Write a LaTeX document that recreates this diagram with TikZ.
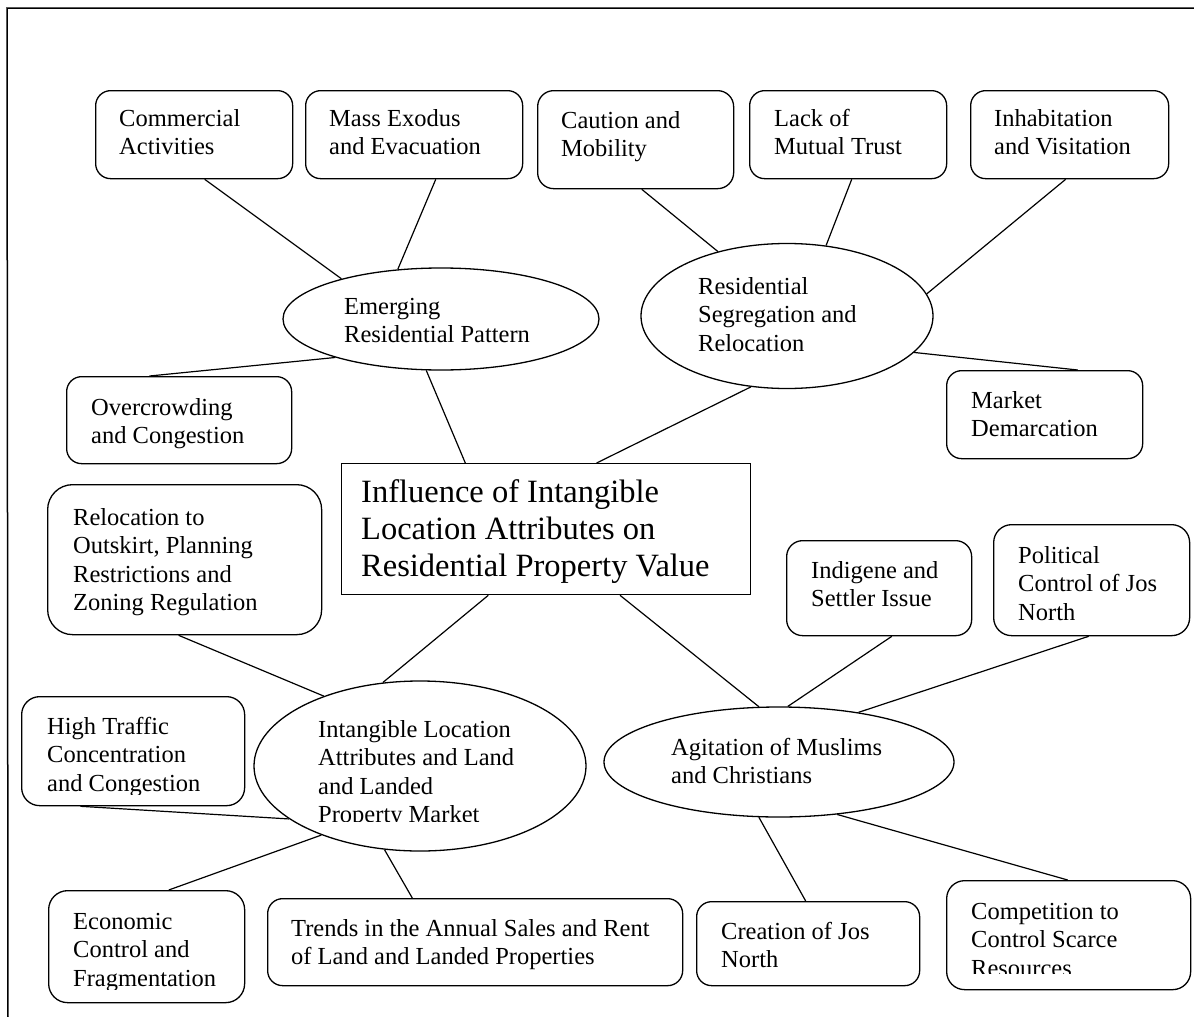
\documentclass[tikz,border=0pt]{standalone}
\usepackage{fontspec}
\setmainfont{Liberation Serif}[Ligatures=CommonOff]
\usetikzlibrary{shapes.geometric,calc}
\newcommand\bxfont{\fontsize{24.5}{28.5}\selectfont}
\newcommand\bigfont{\fontsize{32.5}{37}\selectfont}
\tikzset{
  rbox/.style={draw, line width=1.3pt, rounded corners=#1, inner sep=0pt, anchor=north west},
  rbox/.default=15pt,
  ell/.style={draw, ellipse, line width=1.3pt, inner sep=0pt},
  txt/.style={anchor=north west, inner sep=0pt, align=left, font=\bxfont},
  conn/.style={draw, line width=1.2pt},
  frameline/.style={draw, line width=1.5pt}
}
\begin{document}
\begin{tikzpicture}[x=1pt,y=-1pt]
\useasboundingbox (0,0) rectangle (1194,1017);
% frame
\coordinate (f1) at (7,8);
\coordinate (f2) at (1194,8);
\coordinate (f3) at (8,1017);
\draw[frameline] (f2) -- (f1) -- (f3);

% top boxes
\node[rbox, minimum width=197pt, minimum height=88pt] (com) at (95,90) {};
\node[txt] (comT) at (119,106) {\strut Commercial\\Activities};
\node[rbox, minimum width=217pt, minimum height=88pt] (mass) at (305,90) {};
\node[txt] (massT) at (329,106) {\strut Mass Exodus\\and Evacuation};
\node[rbox=16pt, minimum width=196pt, minimum height=98pt] (cau) at (537,90) {};
\node[txt] (cauT) at (561,108) {\strut Caution and\\Mobility};
\node[rbox, minimum width=197pt, minimum height=88pt] (lack) at (749,90) {};
\node[txt] (lackT) at (774,106) {\strut Lack of\\Mutual Trust};
\node[rbox, minimum width=198pt, minimum height=88pt] (inh) at (970,90) {};
\node[txt] (inhT) at (994,106) {\strut Inhabitation\\and Visitation};

% middle boxes
\node[rbox, minimum width=225pt, minimum height=87pt] (ovc) at (66,376) {};
\node[txt] (ovcT) at (91,395) {\strut Overcrowding\\and Congestion};
\node[rbox, minimum width=196pt, minimum height=88pt] (mkt) at (946,370) {};
\node[txt] (mktT) at (971,388) {\strut Market\\Demarcation};

\node[rbox=25pt, minimum width=274pt, minimum height=150pt] (rel) at (47,484) {};
\node[txt] (relT) at (73,505) {\strut Relocation to\\Outskirt, Planning\\Restrictions and\\Zoning Regulation};
\node[rbox=16pt, minimum width=185pt, minimum height=95pt] (ind) at (786,540) {};
\node[txt] (indT) at (811,558) {\strut Indigene and\\Settler Issue};
\node[rbox=18pt, minimum width=196pt, minimum height=111pt] (pol) at (993,524) {};
\node[txt] (polT) at (1018,543) {\strut Political\\Control of Jos\\North};

% central
\node[draw, line width=1.3pt, inner sep=0pt, anchor=north west, minimum width=409pt, minimum height=131pt] (cen) at (341,463) {};
\node[anchor=north west, inner sep=0pt, align=left, font=\bigfont] (cenT) at (361,476) {\strut Influence of Intangible\\Location Attributes on\\Residential Property Value};

% ellipses
\node[ell, minimum width=316pt, minimum height=102pt] (A) at (441,319) {};
\node[txt] (AT) at (344,294) {\strut Emerging\\Residential Pattern};
\node[ell, minimum width=292pt, minimum height=145pt] (B) at (787,316) {};
\node[txt] (BT) at (698,274) {\strut Residential\\Segregation and\\Relocation};
\node[ell, minimum width=332pt, minimum height=170pt] (C) at (420,766) {};
\begin{scope}
\clip (260,700) rectangle (580,821);
\node[txt] (CT) at (318,717) {\strut Intangible Location\\Attributes and Land\\and Landed\\Property Market};
\end{scope}
\node[ell, minimum width=350pt, minimum height=110pt] (D) at (779,762) {};
\node[txt] (DT) at (671,735) {\strut Agitation of Muslims\\and Christians};

% bottom boxes
\node[rbox=18pt, minimum width=223pt, minimum height=109pt] (ht) at (21,696) {};
\begin{scope}
\clip (21,696) rectangle (244,794);
\node[txt] (htT) at (47,714) {\strut High Traffic\\Concentration\\and Congestion};
\end{scope}
\node[rbox=19pt, minimum width=196pt, minimum height=112pt] (eco) at (48,890) {};
\begin{scope}
\clip (48,890) rectangle (244,989);
\node[txt] (ecoT) at (73,909) {\strut Economic\\Control and\\Fragmentation};
\end{scope}
\node[rbox, minimum width=415pt, minimum height=87pt] (tr) at (267,898) {};
\node[txt] (trT) at (291,916) {\strut Trends in the Annual Sales and Rent\\of Land and Landed Properties};
\node[rbox, minimum width=223pt, minimum height=84pt] (cre) at (696,901) {};
\node[txt] (creT) at (721,919) {\strut Creation of Jos\\North};
\node[rbox=18pt, minimum width=244pt, minimum height=109pt] (cmp) at (946,880) {};
\begin{scope}
\clip (946,880) rectangle (1190,973);
\node[txt] (cmpT) at (971,899) {\strut Competition to\\Control Scarce\\Resources};
\end{scope}

% connectors
\draw[conn] ($(com.south west)!0.553!(com.south east)$) -- (A.158);
\draw[conn] ($(mass.south west)!0.599!(mass.south east)$) -- (A.131);
\draw[conn] ($(ovc.north west)!0.369!(ovc.north east)$) -- (A.200);
\draw[conn] (A.254) -- ($(cen.north west)!0.303!(cen.north east)$);
\draw[conn] ($(cau.south west)!0.531!(cau.south east)$) -- (B.137);
\draw[conn] ($(lack.south west)!0.518!(lack.south east)$) -- (B.61);
\draw[conn] ($(inh.south west)!0.48!(inh.south east)$) -- (B.9);
\draw[conn] (B.344) -- ($(mkt.north west)!0.668!(mkt.north east)$);
\draw[conn] (B.243) -- ($(cen.north west)!0.623!(cen.north east)$);
\draw[conn] ($(cen.south west)!0.359!(cen.south east)$) -- (C.114);
\draw[conn] ($(rel.south west)!0.478!(rel.south east)$) -- (C.144);
\draw[conn] ($(ht.south west)!0.265!(ht.south east)$) -- (C.202);
\draw[conn] ($(eco.north west)!0.612!(eco.north east)$) -- (C.215);
\draw[conn] ($(tr.north west)!0.349!(tr.north east)$) -- (C.247);
\draw[conn] ($(cen.south west)!0.68!(cen.south east)$) -- (D.110);
\draw[conn] ($(ind.south west)!0.568!(ind.south east)$) -- (D.81);
\draw[conn] ($(pol.south west)!0.485!(pol.south east)$) -- (D.32);
\draw[conn] (D.250) -- ($(cre.north west)!0.489!(cre.north east)$);
\draw[conn] (D.318) -- ($(cmp.north west)!0.496!(cmp.north east)$);
\end{tikzpicture}
\end{document}
